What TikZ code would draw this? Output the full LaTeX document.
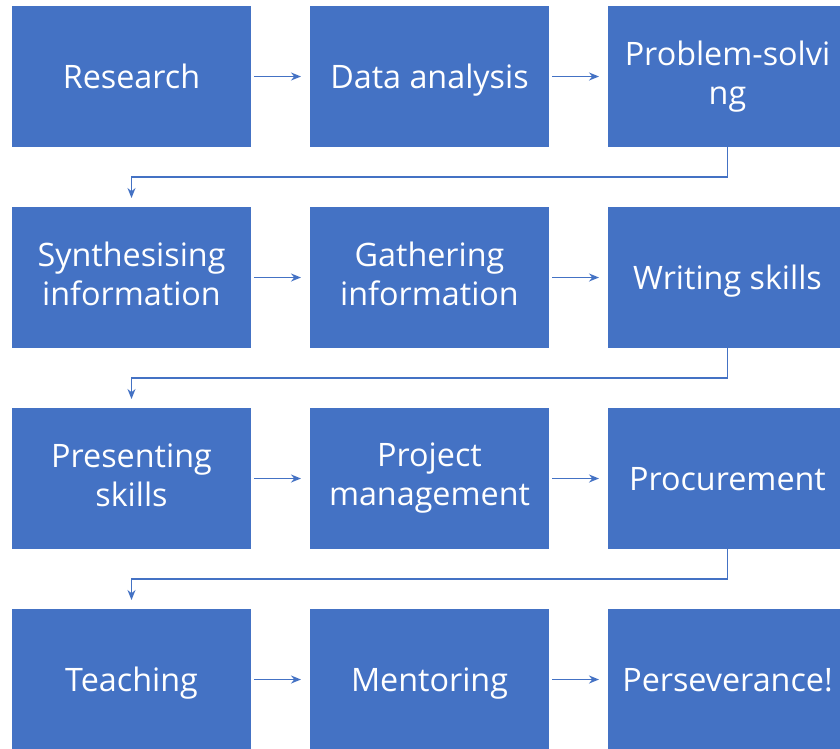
\documentclass[tikz,border=0pt]{standalone}
\usepackage{fontspec}
\setmainfont{Open Sans}
\usetikzlibrary{positioning,arrows.meta}
\definecolor{skillblue}{HTML}{4472C4}
\newcommand{\skillstrut}{\rule[-7.2pt]{0pt}{39pt}}
\tikzset{
	chart/.style={shorten <=3pt,shorten >=9pt,line width=1.7pt,
		node distance=60pt and 59pt},
	skill/.style={rectangle,fill=skillblue,text=white,minimum width=239pt,
		minimum height=141pt,inner sep=0pt,outer sep=0pt,align=center,
		font=\fontsize{32.3}{39}\selectfont,
		execute at begin node=\skillstrut,execute at end node=\skillstrut},
	flow/.style={-{Stealth[length=10pt,width=8pt]},draw=skillblue},
	wrap/.style={-{Stealth[length=10pt,width=8pt]},draw=skillblue,shorten <=0pt}
}
\begin{document}
\begin{tikzpicture}[chart]
	\useasboundingbox (0,0) rectangle (840pt,-748pt);
	
	\node[skill] (res) at (131.5pt,-76.5pt) {Research};
	\node[skill] (dat) [right= of res] {Data analysis};
	\node[skill] (pro) [right= of dat] {Problem-solvi\\ng};
	\node[skill] (syn) [below= of res] {Synthesising\\information};
	\node[skill] (gat) [right= of syn] {Gathering\\information};
	\node[skill] (wri) [right= of gat] {Writing skills};
	\node[skill] (pre) [below= of syn] {Presenting\\skills};
	\node[skill] (prj) [right= of pre] {Project\\management};
	\node[skill] (prc) [right= of prj] {Procurement};
	\node[skill] (tea) [below= of pre] {Teaching};
	\node[skill] (men) [right= of tea] {Mentoring};
	\node[skill] (per) [right= of men] {Perseverance!};
	
	\path[flow] (res) edge (dat);
	\path[flow] (dat) edge (pro);
	\path[flow] (syn) edge (gat);
	\path[flow] (gat) edge (wri);
	\path[flow] (pre) edge (prj);
	\path[flow] (prj) edge (prc);
	\path[flow] (tea) edge (men);
	\path[flow] (men) edge (per);
	
	\draw[wrap] (pro.south) -- ++(0,-30pt) -| (syn.north);
	\draw[wrap] (wri.south) -- ++(0,-30pt) -| (pre.north);
	\draw[wrap] (prc.south) -- ++(0,-30pt) -| (tea.north);
\end{tikzpicture}
\end{document}
